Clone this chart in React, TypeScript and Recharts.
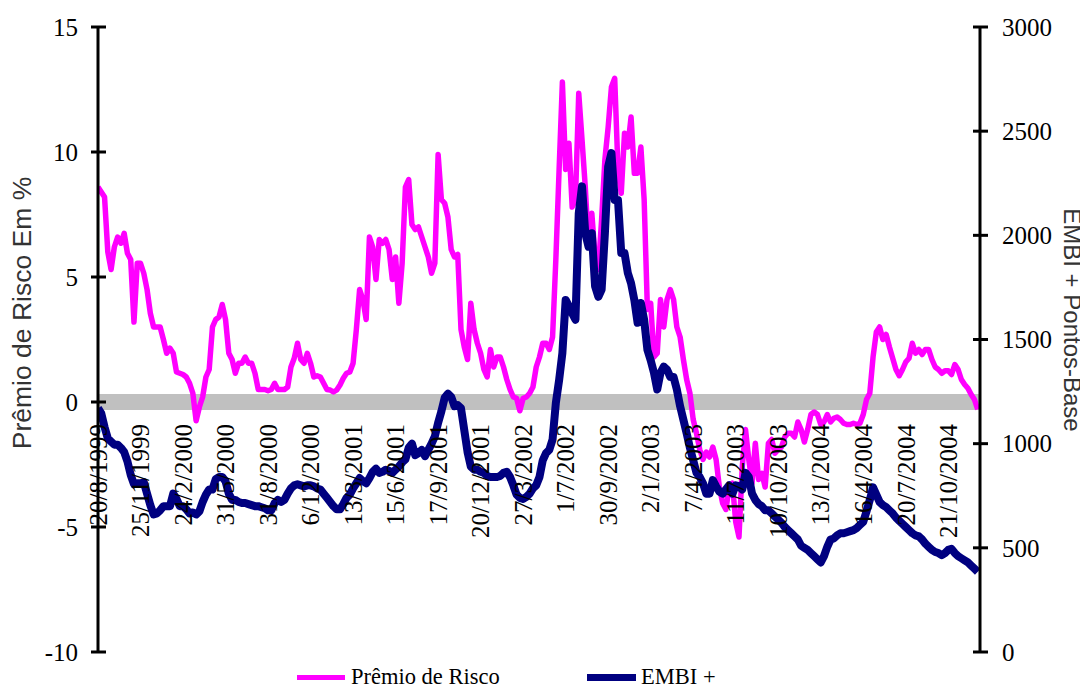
import React from 'react';
import { LineChart, Line, XAxis, YAxis, ReferenceLine } from 'recharts';

// Weekly samples (Prêmio de Risco, % — left axis)
const premio: number[] = [
  8.6, 8.4, 8.2, 6.0, 5.3, 6.2, 6.6, 6.35, 6.75, 5.95,
  5.7, 3.2, 5.55, 5.55, 5.15, 4.5, 3.55, 3.0, 3.0, 3.0,
  2.5, 1.95, 2.15, 1.95, 1.2, 1.15, 1.1, 1.0, 0.75, 0.35,
  -0.75, -0.2, 0.2, 1.0, 1.3, 3.0, 3.3, 3.4, 3.9, 3.3,
  1.95, 1.7, 1.15, 1.55, 1.55, 1.8, 1.55, 1.55, 1.15, 0.5,
  0.5, 0.5, 0.45, 0.5, 0.75, 0.5, 0.5, 0.5, 0.6, 1.4,
  1.75, 2.35, 1.7, 1.55, 1.95, 1.55, 1.0, 1.05, 1.0, 0.75,
  0.5, 0.48, 0.4, 0.48, 0.68, 0.95, 1.15, 1.2, 1.55, 2.9,
  4.5, 4.1, 3.3, 6.6, 6.2, 4.9, 6.5, 6.35, 6.5, 6.1,
  4.9, 5.8, 3.95, 5.55, 8.6, 8.9, 7.1, 6.9, 7.0, 6.6,
  6.2, 5.8, 5.15, 5.55, 9.9, 8.1, 7.95, 7.4, 6.1, 5.8,
  5.9, 2.9, 2.2, 1.7, 3.95, 2.9, 2.35, 1.95, 1.3, 1.0,
  2.1, 1.4, 1.8, 1.8, 1.4, 0.9, 0.5, 0.2, 0.15, -0.35,
  0.15, 0.2, 0.35, 0.6, 1.4, 1.8, 2.35, 2.35, 2.1, 2.6,
  5.7, 9.3, 12.8, 9.3, 10.35, 7.8, 8.1, 12.35, 10.5, 8.6,
  6.2, 7.55, 5.8, 5.3, 7.3, 9.7, 11.0, 12.6, 12.95, 9.3,
  8.35, 10.75, 10.2, 11.4, 9.15, 9.15, 10.2, 8.1, 3.7, 3.95,
  1.8, 1.95, 4.1, 3.0, 4.1, 4.5, 4.1, 3.0, 2.6, 1.7,
  0.9, 0.35, -0.7, -1.25, -1.9, -2.3, -2.0, -2.2, -1.8, -2.3,
  -3.4, -4.05, -4.3, -3.4, -3.25, -4.8, -5.4, -2.6, -1.1, -2.3,
  -3.25, -1.65, -3.1, -2.85, -3.4, -1.65, -1.5, -2.05, -1.9, -1.8,
  -1.4, -1.25, -1.25, -1.4, -0.8, -1.1, -1.6, -1.1, -0.5, -0.4,
  -0.5, -0.9, -0.8, -0.5, -0.8, -0.65, -0.6, -0.7, -0.85, -0.9,
  -0.9, -0.85, -0.9, -0.85, -0.5, 0.1, 0.35, 1.8, 2.8, 3.0,
  2.5, 2.7, 2.2, 1.75, 1.3, 1.05, 1.3, 1.6, 1.75, 2.35,
  1.95, 2.1, 1.9, 2.1, 2.1, 1.7, 1.4, 1.3, 1.15, 1.25,
  1.25, 1.1, 1.5, 1.3, 0.9, 0.7, 0.55, 0.3, 0.1, -0.3,
];

// Weekly samples (EMBI +, pontos-base — right axis)
const embi: number[] = [
  1170, 1145, 1080, 1025, 1010, 995, 995, 980, 960, 915,
  850, 805, 810, 810, 815, 760, 705, 660, 665, 680,
  700, 700, 700, 760, 735, 700, 700, 685, 665, 670,
  660, 675, 720, 755, 780, 780, 830, 840, 840, 820,
  760, 730, 730, 720, 715, 715, 710, 705, 700, 700,
  695, 690, 680, 680, 715, 730, 720, 730, 760, 785,
  800, 805, 800, 795, 800, 800, 795, 785, 780, 760,
  740, 720, 700, 685, 685, 710, 740, 755, 785, 810,
  835, 820, 810, 835, 865, 880, 860, 865, 875, 870,
  860, 875, 890, 910, 925, 980, 1000, 945, 955, 970,
  940, 970, 1000, 1035, 1100, 1155, 1220, 1240, 1225, 1180,
  1185, 1170, 1065, 960, 890, 875, 875, 865, 860, 845,
  840, 840, 840, 845, 860, 865, 840, 800, 755, 740,
  735, 745, 760, 785, 800, 840, 920, 955, 970, 1020,
  1195, 1305, 1435, 1690, 1660, 1625, 1595, 2105, 2235, 2010,
  1945, 2010, 1755, 1705, 1740, 2010, 2330, 2395, 2170, 2170,
  1915, 1915, 1820, 1770, 1690, 1580, 1675, 1595, 1450, 1400,
  1340, 1260, 1340, 1370, 1355, 1320, 1320, 1260, 1180, 1115,
  1050, 980, 920, 860, 840, 810, 760, 760, 825, 795,
  770, 760, 780, 800, 760, 800, 795, 780, 860, 840,
  760, 730, 710, 700, 680, 680, 665, 650, 635, 620,
  600, 585, 570, 555, 540, 510, 500, 490, 475, 460,
  445, 430, 460, 505, 540, 545, 560, 570, 570, 575,
  580, 585, 595, 610, 625, 675, 730, 790, 755, 720,
  705, 695, 680, 665, 645, 630, 615, 600, 585, 570,
  560, 555, 540, 520, 505, 490, 480, 475, 465, 475,
  490, 495, 475, 460, 450, 440, 430, 415, 400, 385,
];

const tickLabels: string[] = [
  '20/8/1999', '25/11/1999', '24/2/2000', '31/5/2000', '31/8/2000',
  '6/12/2000', '13/3/2001', '15/6/2001', '17/9/2001', '20/12/2001',
  '27/3/2002', '1/7/2002', '30/9/2002', '2/1/2003', '7/4/2003',
  '11/7/2003', '10/10/2003', '13/1/2004', '16/4/2004', '20/7/2004',
  '21/10/2004',
];
const LABEL_STEP = 13; // weekly samples between labelled dates

const leftTicks = [-10, -5, 0, 5, 10, 15];
const rightTicks = [0, 500, 1000, 1500, 2000, 2500, 3000];

const data = premio.map((p, i) => ({ i, premio: p, embi: embi[i] }));
const xTicks = tickLabels.map((_, k) => k * LABEL_STEP);

const W = 1080;
const H = 682;
const TOP = 19;
const XAXIS_H = 38;
const LEFT_W = 90;
const RIGHT_W = 108;
const PLOT_H = H - TOP - XAXIS_H;
const Y_ZERO = TOP + (PLOT_H * 15) / 25;

const SERIF = '"Liberation Serif", "Times New Roman", serif';
const SANS = '"Liberation Sans", Arial, sans-serif';

const XTick = (props: any) => {
  const { x, payload } = props;
  const label = tickLabels[Math.round(payload.value / LABEL_STEP)];
  const ty = Y_ZERO + 22;
  return (
    <text
      x={x}
      y={ty}
      transform={`rotate(-90 ${x} ${ty})`}
      textAnchor="end"
      dy="0.35em"
      fontFamily={SERIF}
      fontSize={25}
      fill="#000"
    >
      {label}
    </text>
  );
};

const LeftTick = (props: any) => {
  const { x, y, payload } = props;
  return (
    <g>
      <line x1={x - 7} x2={x + 8} y1={y} y2={y} stroke="#000" strokeWidth={3} />
      <text x={x - 20} y={y} dy="0.35em" textAnchor="end" fontFamily={SERIF} fontSize={25} fill="#000">
        {payload.value}
      </text>
    </g>
  );
};

const RightTick = (props: any) => {
  const { x, y, payload } = props;
  return (
    <g>
      <line x1={x - 7} x2={x + 8} y1={y} y2={y} stroke="#000" strokeWidth={3} />
      <text x={x + 22} y={y} dy="0.35em" textAnchor="start" fontFamily={SERIF} fontSize={25} fill="#000">
        {payload.value}
      </text>
    </g>
  );
};

const LeftTitle = () => (
  <text
    x={14}
    y={305}
    transform="rotate(-90 14 305)"
    textAnchor="middle"
    dy="0.35em"
    fontFamily={SANS}
    fontSize={26.5}
    fill="#333"
  >
    Prêmio de Risco Em %
  </text>
);

const RightTitle = () => (
  <text
    x={1064}
    y={312}
    transform="rotate(90 1064 312)"
    textAnchor="middle"
    dy="0.35em"
    fontFamily={SANS}
    fontSize={24}
    fill="#333"
  >
    EMBI + Pontos-Base
  </text>
);

export default function App() {
  return (
    <div style={{ position: 'relative', width: W, height: H }}>
      <LineChart width={W} height={H} data={data} margin={{ top: TOP, right: 0, bottom: 0, left: 0 }}>
        <XAxis
          dataKey="i"
          type="number"
          domain={[0, 269.7]}
          ticks={xTicks}
          interval={0}
          height={XAXIS_H}
          axisLine={false}
          tickLine={false}
          tick={<XTick />}
          allowDataOverflow
        />
        <YAxis
          yAxisId="left"
          orientation="left"
          domain={[-10, 15]}
          ticks={leftTicks}
          interval={0}
          width={LEFT_W}
          axisLine={{ stroke: '#000', strokeWidth: 3 }}
          tickLine={false}
          tickSize={0}
          tickMargin={0}
          tick={<LeftTick />}
          label={<LeftTitle />}
        />
        <YAxis
          yAxisId="right"
          orientation="right"
          domain={[0, 3000]}
          ticks={rightTicks}
          interval={0}
          width={RIGHT_W}
          axisLine={{ stroke: '#000', strokeWidth: 3 }}
          tickLine={false}
          tickSize={0}
          tickMargin={0}
          tick={<RightTick />}
          label={<RightTitle />}
        />
        <ReferenceLine yAxisId="left" y={0} stroke="#C0C0C0" strokeWidth={16} />
        <Line
          yAxisId="left"
          dataKey="premio"
          type="linear"
          stroke="#FF00FF"
          strokeWidth={5.5}
          strokeLinejoin="round"
          dot={false}
          activeDot={false}
          isAnimationActive={false}
        />
        <Line
          yAxisId="right"
          dataKey="embi"
          type="linear"
          stroke="#000080"
          strokeWidth={8}
          strokeLinejoin="round"
          dot={false}
          activeDot={false}
          isAnimationActive={false}
        />
      </LineChart>
      <div style={{ position: 'absolute', left: 289, top: 667, width: 48, height: 5, background: '#FF00FF' }} />
      <div
        style={{
          position: 'absolute', left: 343, top: 658, fontFamily: SERIF, fontSize: 22.5,
          lineHeight: '22px', whiteSpace: 'nowrap', color: '#000',
        }}
      >
        Prêmio de Risco
      </div>
      <div style={{ position: 'absolute', left: 579, top: 666, width: 49, height: 7, background: '#000080' }} />
      <div
        style={{
          position: 'absolute', left: 633, top: 658, fontFamily: SERIF, fontSize: 22.5,
          lineHeight: '22px', whiteSpace: 'nowrap', color: '#000',
        }}
      >
        EMBI +
      </div>
    </div>
  );
}
